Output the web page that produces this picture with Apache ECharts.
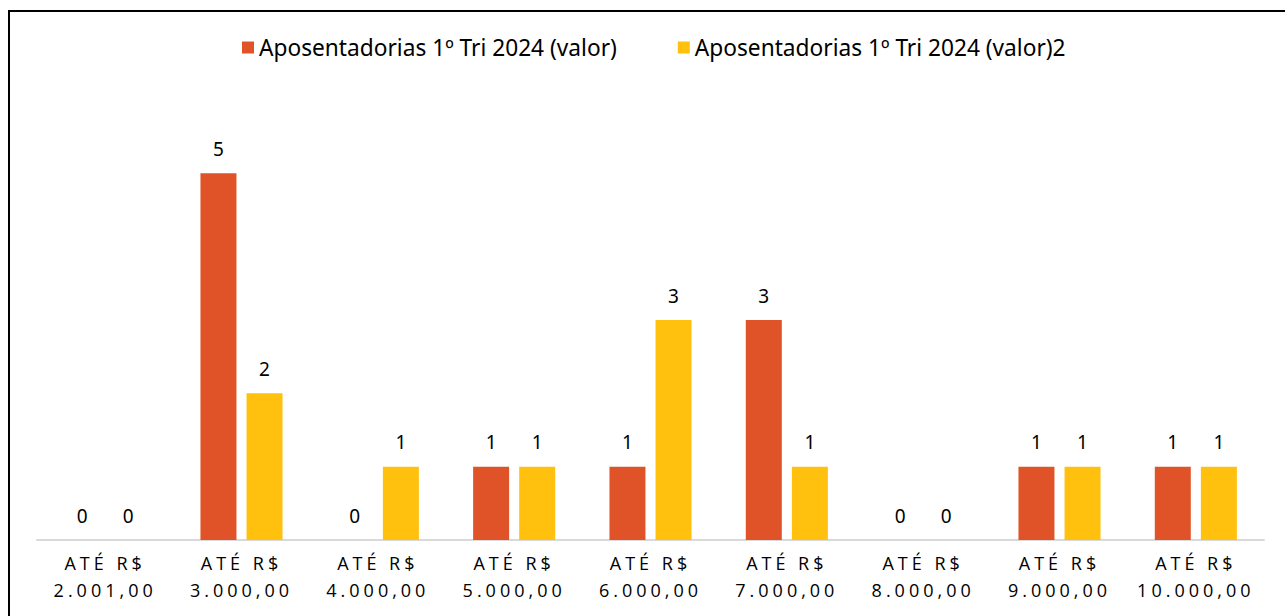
<!DOCTYPE html>
<html lang="pt">
<head>
<meta charset="UTF-8">
<title>Aposentadorias 1º Tri 2024</title>
<script src="https://cdn.jsdelivr.net/npm/echarts@6/dist/echarts.min.js"></script>
<style>
  html, body { margin: 0; padding: 0; background: #fff; overflow: hidden; }
  #main { width: 1285px; height: 616px; }
  #frame { position: absolute; left: 8px; top: 10px; width: 1400px; height: 800px;
           border: 2px solid #000; pointer-events: none; }
  /* rótulos do eixo x com espaçamento entre letras */
  #main text[style*="Open Sans"] { letter-spacing: 4px; }
</style>
</head>
<body>
<div id="main"></div>
<div id="frame"></div>
<script>
// faixas de valor
var categorias = ['ATÉ R$\n2.001,00', 'ATÉ R$\n3.000,00', 'ATÉ R$\n4.000,00', 'ATÉ R$\n5.000,00',
  'ATÉ R$\n6.000,00', 'ATÉ R$\n7.000,00', 'ATÉ R$\n8.000,00', 'ATÉ R$\n9.000,00', 'ATÉ R$\n10.000,00'];
var serie1Nome = 'Aposentadorias 1º Tri 2024 (valor)';
var serie2Nome = 'Aposentadorias 1º Tri 2024 (valor)2';
var serie1 = [0, 5, 0, 1, 1, 3, 0, 1, 1];
var serie2 = [0, 2, 1, 1, 3, 1, 0, 1, 1];

var chart = echarts.init(document.getElementById('main'), null, { renderer: 'svg' });

var rotulo = {
  show: true,
  position: 'top',
  distance: 15,
  color: '#000',
  fontSize: 19,
  fontFamily: 'Noto Sans'
};

chart.setOption({
  animation: false,
  legend: {
    left: 237,
    top: 31,
    itemWidth: 12,
    itemHeight: 12,
    itemGap: 61,
    icon: 'rect',
    textStyle: { fontSize: 22.7, color: '#000', fontFamily: 'Noto Sans' },
    data: [serie1Nome, serie2Nome]
  },
  grid: { left: 37, right: 21, top: 100, bottom: 76 },
  xAxis: {
    type: 'category',
    data: categorias,
    axisLine: { lineStyle: { color: '#d9d9d9', width: 2 } },
    axisTick: { show: false },
    axisLabel: {
      color: '#000',
      fontSize: 18,
      fontFamily: 'Open Sans',
      lineHeight: 27,
      margin: 9
    }
  },
  yAxis: {
    type: 'value',
    min: 0,
    max: 6,
    show: false,
    splitLine: { show: false }
  },
  series: [
    {
      name: serie1Nome,
      type: 'bar',
      data: serie1,
      barWidth: 36,
      barGap: '28%',
      itemStyle: { color: '#E05328' },
      label: rotulo
    },
    {
      name: serie2Nome,
      type: 'bar',
      data: serie2,
      barWidth: 36,
      itemStyle: { color: '#FFC10E' },
      label: rotulo
    }
  ]
});
</script>
</body>
</html>
